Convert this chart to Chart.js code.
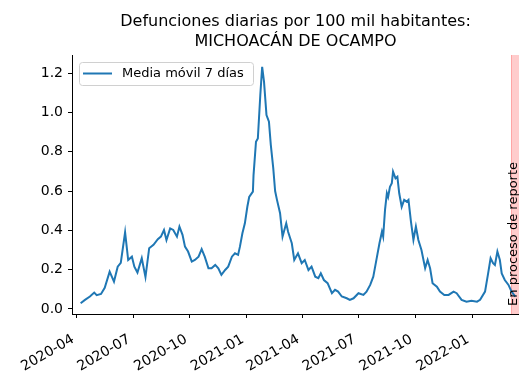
<!DOCTYPE html>
<html>
<head>
<meta charset="utf-8">
<script src="https://cdn.jsdelivr.net/npm/chart.js@4.4.0/dist/chart.umd.min.js"></script>
<style>
  html, body { margin: 0; padding: 0; background: #fff; overflow: hidden; }
  canvas { display: block; }
</style>
</head>
<body>
<canvas id="chart" width="519" height="375"></canvas>
<script>
// datos
const fechas = [
  '2020-04-07','2020-04-14','2020-04-22','2020-04-29','2020-05-03','2020-05-10','2020-05-16','2020-05-24',
  '2020-05-31','2020-06-06','2020-06-11','2020-06-18','2020-06-23','2020-06-29','2020-07-03','2020-07-08',
  '2020-07-15','2020-07-21','2020-07-27','2020-08-03','2020-08-10','2020-08-15','2020-08-20','2020-08-24',
  '2020-08-30','2020-09-04','2020-09-10','2020-09-14','2020-09-19','2020-09-23','2020-09-28','2020-10-04',
  '2020-10-09','2020-10-15','2020-10-20','2020-10-25','2020-10-31','2020-11-05','2020-11-11','2020-11-16',
  '2020-11-21','2020-11-27','2020-12-02','2020-12-08','2020-12-13','2020-12-18','2020-12-21','2020-12-25',
  '2020-12-29','2021-01-02','2021-01-05','2021-01-11','2021-01-12','2021-01-16','2021-01-19','2021-01-23',
  '2021-01-26','2021-01-29','2021-02-02','2021-02-06','2021-02-09','2021-02-13','2021-02-16','2021-02-19',
  '2021-02-24','2021-02-28','2021-03-06','2021-03-09','2021-03-15','2021-03-19','2021-03-25','2021-03-31',
  '2021-04-05','2021-04-11','2021-04-16','2021-04-22','2021-04-27','2021-05-01','2021-05-06','2021-05-12',
  '2021-05-19','2021-05-24','2021-05-29','2021-06-04','2021-06-12','2021-06-17','2021-06-23','2021-07-01',
  '2021-07-09','2021-07-14','2021-07-20','2021-07-25','2021-07-31','2021-08-04','2021-08-08','2021-08-10',
  '2021-08-13','2021-08-16','2021-08-18','2021-08-21','2021-08-24','2021-08-26','2021-08-30','2021-09-02',
  '2021-09-05','2021-09-09','2021-09-13','2021-09-17','2021-09-20','2021-09-24','2021-09-28','2021-10-02',
  '2021-10-06','2021-10-11','2021-10-17','2021-10-21','2021-10-25','2021-10-29','2021-11-05','2021-11-10',
  '2021-11-17','2021-11-24','2021-12-02','2021-12-07','2021-12-15','2021-12-23','2021-12-31','2022-01-09',
  '2022-01-14','2022-01-22','2022-01-27','2022-01-31','2022-02-04','2022-02-07','2022-02-11','2022-02-15',
  '2022-02-18','2022-02-23','2022-03-01','2022-03-06','2022-03-12'
];
const mediaMovil = [
  0.029,0.046,0.063,0.083,0.070,0.076,0.107,0.190,
  0.139,0.215,0.234,0.390,0.249,0.266,0.215,0.185,
  0.258,0.162,0.309,0.326,0.355,0.368,0.402,0.351,
  0.410,0.402,0.368,0.419,0.377,0.317,0.292,0.241,
  0.249,0.266,0.304,0.266,0.207,0.207,0.224,0.207,
  0.173,0.198,0.215,0.266,0.283,0.275,0.317,0.385,
  0.436,0.520,0.570,0.597,0.680,0.851,0.868,1.089,
  1.233,1.157,0.987,0.953,0.835,0.716,0.600,0.555,
  0.487,0.368,0.436,0.393,0.334,0.249,0.283,0.233,
  0.249,0.198,0.215,0.164,0.156,0.181,0.147,0.131,
  0.080,0.097,0.088,0.063,0.054,0.046,0.054,0.080,
  0.071,0.088,0.122,0.164,0.266,0.334,0.393,0.368,
  0.504,0.589,0.570,0.622,0.640,0.699,0.665,0.673,
  0.589,0.520,0.555,0.546,0.555,0.444,0.351,0.419,
  0.351,0.300,0.207,0.249,0.207,0.131,0.113,0.088,
  0.071,0.071,0.088,0.080,0.046,0.037,0.041,0.037,
  0.046,0.088,0.181,0.258,0.233,0.224,0.292,0.249,
  0.181,0.147,0.122,0.088,0.063
];
const xTickFechas = ['2020-04-01','2020-07-01','2020-10-01','2021-01-01','2021-04-01','2021-07-01','2021-10-01','2022-01-01'];
const xTickLabels = ['2020-04','2020-07','2020-10','2021-01','2021-04','2021-07','2021-10','2022-01'];
const yTicks = [0, 0.2, 0.4, 0.6, 0.8, 1.0, 1.2];
const inicioReporte = '2022-03-05';
const titulo = ['Defunciones diarias por 100 mil habitantes:', 'MICHOACÁN DE OCAMPO'];

function dia(s) {
  const p = s.split('-').map(Number);
  return Date.UTC(p[0], p[1] - 1, p[2]) / 86400000;
}

const FONT = 'DejaVu Sans';
const xMin = dia('2020-03-24');
const xMax = dia('2022-03-18');

const puntos = fechas.map((f, i) => ({ x: dia(f), y: mediaMovil[i] }));
const tickDias = xTickFechas.map(dia);

// franja roja "En proceso de reporte"
const franja = {
  id: 'franja',
  beforeDatasetsDraw(chart) {
    const { ctx, chartArea, scales } = chart;
    const x0 = scales.x.getPixelForValue(dia(inicioReporte));
    ctx.save();
    ctx.fillStyle = 'rgba(255,0,0,0.2)';
    ctx.fillRect(x0, chartArea.top, chartArea.right - x0, chartArea.bottom - chartArea.top);
    ctx.strokeStyle = 'rgba(255,0,0,0.2)';
    ctx.lineWidth = 1;
    ctx.beginPath();
    ctx.moveTo(x0 + 0.5, chartArea.top);
    ctx.lineTo(x0 + 0.5, chartArea.bottom);
    ctx.stroke();
    ctx.restore();
  },
  afterDatasetsDraw(chart) {
    const { ctx, scales } = chart;
    ctx.save();
    ctx.translate(517, scales.y.getPixelForValue(0) - 3);
    ctx.rotate(-Math.PI / 2);
    ctx.font = '13px "' + FONT + '"';
    ctx.fillStyle = '#000';
    ctx.textAlign = 'left';
    ctx.textBaseline = 'alphabetic';
    ctx.fillText('En proceso de reporte', 0, 0);
    ctx.restore();
  }
};

// titulo y leyenda dibujados a mano
const extras = {
  id: 'extras',
  afterDraw(chart) {
    const { ctx, chartArea } = chart;
    const cx = (chartArea.left + chartArea.right) / 2;
    ctx.save();
    ctx.font = '16px "' + FONT + '"';
    ctx.fillStyle = '#000';
    ctx.textAlign = 'center';
    ctx.textBaseline = 'middle';
    ctx.fillText(titulo[0], cx, 22);
    ctx.fillText(titulo[1], cx, 42);

    // leyenda
    const lx = 79, ly = 62, lw = 174, lh = 23;
    ctx.beginPath();
    ctx.roundRect(lx + 0.5, ly + 0.5, lw, lh, 3);
    ctx.fillStyle = 'rgba(255,255,255,0.8)';
    ctx.fill();
    ctx.strokeStyle = '#d0d0d0';
    ctx.lineWidth = 1;
    ctx.stroke();
    const ds = chart.data.datasets[0];
    ctx.strokeStyle = ds.borderColor;
    ctx.lineWidth = 2;
    ctx.beginPath();
    ctx.moveTo(lx + 4, ly + 11.5);
    ctx.lineTo(lx + 33, ly + 11.5);
    ctx.stroke();
    ctx.font = '13px "' + FONT + '"';
    ctx.fillStyle = '#000';
    ctx.textAlign = 'left';
    ctx.fillText(ds.label, lx + 43, ly + 12);
    ctx.restore();
  }
};

new Chart(document.getElementById('chart'), {
  type: 'line',
  data: {
    datasets: [{
      label: 'Media móvil 7 días',
      data: puntos,
      borderColor: '#1f77b4',
      borderWidth: 2,
      pointRadius: 0,
      tension: 0,
      fill: false
    }]
  },
  options: {
    responsive: false,
    animation: false,
    layout: { padding: { top: 55, left: 0, right: 0, bottom: 0 } },
    plugins: {
      legend: { display: false },
      title: { display: false },
      tooltip: { enabled: false }
    },
    scales: {
      x: {
        type: 'linear',
        position: 'bottom',
        min: xMin,
        max: xMax,
        border: { display: true, color: '#000', width: 1 },
        grid: { display: true, drawOnChartArea: false, drawTicks: true, tickLength: 4, color: '#000' },
        afterBuildTicks(scale) {
          scale.ticks = tickDias.map(v => ({ value: v }));
        },
        afterFit(scale) { scale.height = 61; },
        ticks: {
          autoSkip: false,
          minRotation: 30,
          maxRotation: 30,
          padding: 11,
          color: '#000',
          font: { family: FONT, size: 14 },
          callback: (v) => {
            const i = tickDias.indexOf(v);
            // espacio final para que el texto termine junto a la marca, como en matplotlib
            return i >= 0 ? xTickLabels[i] + ' ' : '';
          }
        }
      },
      y: {
        min: -0.026,
        max: 1.293,
        border: { display: true, color: '#000', width: 1 },
        grid: { display: true, drawOnChartArea: false, drawTicks: true, tickLength: 4, color: '#000' },
        afterBuildTicks(scale) {
          scale.ticks = yTicks.map(v => ({ value: v }));
        },
        afterFit(scale) { scale.width = 72; },
        ticks: {
          padding: 5,
          color: '#000',
          font: { family: FONT, size: 14 },
          callback: (v) => Number(v).toFixed(1)
        }
      }
    }
  },
  plugins: [franja, extras]
});
</script>
</body>
</html>
